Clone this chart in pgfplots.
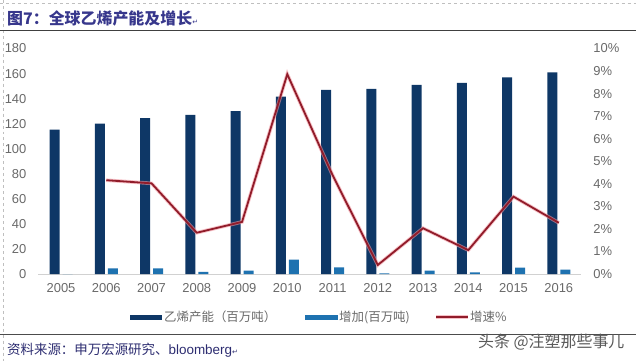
\documentclass[border=0pt]{standalone}
\usepackage{pgfplots}
\pgfplotsset{compat=1.18}
\usepackage{fontspec}
\setmainfont{Liberation Sans}
\newfontfamily\cjk{Noto Sans CJK SC}
\newfontfamily\dv{DejaVu Sans}
\definecolor{navy}{RGB}{14,55,102}
\definecolor{lblue}{RGB}{30,114,176}
\definecolor{redl}{RGB}{145,28,42}
\definecolor{redglow}{RGB}{240,150,160}
\definecolor{tickgray}{RGB}{105,105,105}
\definecolor{titleblue}{RGB}{55,55,140}
\begin{document}
\begin{tikzpicture}[x=1bp,y=1bp]
\useasboundingbox (0,0) rectangle (636,361);
% frame marks
\draw[gray!50, dashed, line width=0.5bp] (3,361) -- (3,0);
\draw[gray!50, dashed, line width=0.5bp] (0,358) -- (636,358);
% title
\node[anchor=west, inner sep=0, text=titleblue, font=\cjk\bfseries\fontsize{16}{18}\selectfont] at (7,361-18.5) {图7：全球乙烯产能及增长{\dv\mdseries\fontsize{7}{8}\selectfont ↵}};
\draw[black!75, line width=1.6bp] (0,361-30.5) -- (636,361-30.5);
% bottom
\draw[black!70, line width=1bp] (0,361-334) -- (636,361-334);
\node[anchor=west, inner sep=0, text=titleblue!80!black, font=\cjk\fontsize{13.5}{15}\selectfont] at (7,361-350) {资料来源：申万宏源研究、{\fontspec{Liberation Sans}bloomberg}{\dv\fontsize{7}{8}\selectfont ↵}};
\node[anchor=west, inner sep=0, text=black!65, font=\cjk\fontsize{16}{18}\selectfont] at (478,361-342) {头条 @注塑那些事儿};

\begin{axis}[
  at={(38.4bp,87bp)}, anchor=south west, scale only axis,
  width=543bp, height=225.5bp,
  xmin=-0.5, xmax=11.5, ymin=0, ymax=180,
  axis x line*=bottom, axis y line*=left,
  y axis line style={draw=none},
  x axis line style={draw=black!18, line width=0.8bp},
  major tick length=0,
  xtick={0,...,11},
  xticklabels={2005,2006,2007,2008,2009,2010,2011,2012,2013,2014,2015,2016},
  ytick={0,20,...,180},
  tick label style={text=tickgray, font=\fontsize{13}{14}\selectfont},
  /pgf/number format/assume math mode=true,
  yticklabel style={xshift=-8.5bp},
  xticklabel style={yshift=-6bp},
  clip=false,
]
\addplot[ybar, bar width=10bp, bar shift=-6.5bp, fill=navy, draw=none] coordinates {
(0,115.2) (1,120) (2,124.5) (3,127) (4,130) (5,141.6) (6,147) (7,147.7) (8,151) (9,152.5) (10,157) (11,161)};
\addplot[ybar, bar width=10bp, bar shift=6.5bp, fill=lblue, draw=none] coordinates {
(0,0) (1,4.5) (2,4.5) (3,1.6) (4,2.7) (5,11.4) (6,5.3) (7,0.5) (8,2.7) (9,1.3) (10,5.0) (11,3.5)};
\end{axis}

\begin{axis}[
  at={(38.4bp,87bp)}, anchor=south west, scale only axis,
  width=543bp, height=225.5bp,
  xmin=-0.5, xmax=11.5, ymin=0, ymax=10,
  axis x line=none, axis y line*=right,
  y axis line style={draw=none},
  major tick length=0,
  ytick={0,1,...,10},
  yticklabel={\pgfmathprintnumber{\tick}\%},
  tick label style={text=tickgray, font=\fontsize{13}{14}\selectfont},
  /pgf/number format/assume math mode=true,
  yticklabel style={xshift=8.5bp},
  clip=false,
]
\addplot[redglow, line width=3.6bp, opacity=0.6] coordinates {
(1,4.16) (2,4.02) (3,1.83) (4,2.31) (5,8.86) (6,4.39) (7,0.40) (8,2.03) (9,1.06) (10,3.43) (11,2.27)};
\addplot[redl, line width=1.8bp] coordinates {
(1,4.16) (2,4.02) (3,1.83) (4,2.31) (5,8.86) (6,4.39) (7,0.40) (8,2.03) (9,1.06) (10,3.43) (11,2.27)};
\end{axis}

% legend
\fill[navy] (130,361-319.5) rectangle (162,361-314.5);
\node[anchor=west, inner sep=0, text=tickgray, font=\cjk\fontsize{12.5}{14}\selectfont] at (164,361-317) {乙烯产能（百万吨）};
\fill[lblue] (305,361-319.5) rectangle (338,361-314.5);
\node[anchor=west, inner sep=0, text=tickgray, font=\cjk\fontsize{12.5}{14}\selectfont] at (339,361-317) {增加(百万吨)};
\draw[redglow, line width=3.2bp, opacity=0.6] (436,361-317) -- (468,361-317);
\draw[redl, line width=1.6bp] (436,361-317) -- (468,361-317);
\node[anchor=west, inner sep=0, text=tickgray, font=\cjk\fontsize{12.5}{14}\selectfont] at (470,361-317) {增速\%};
\end{tikzpicture}
\end{document}
